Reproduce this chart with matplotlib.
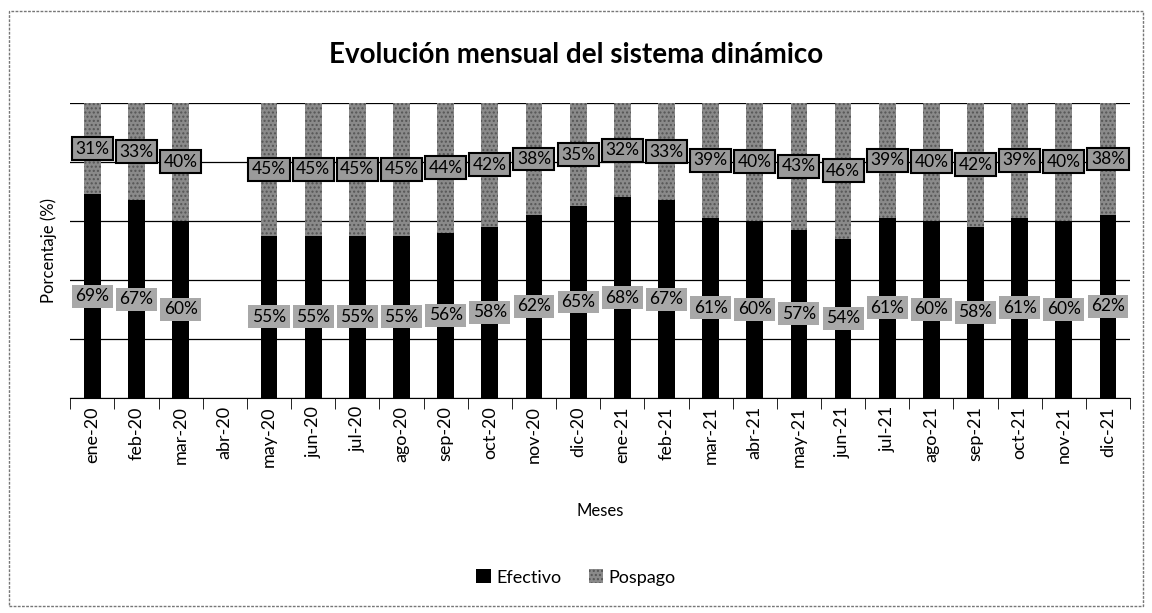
import matplotlib
matplotlib.use("Agg")
import matplotlib.pyplot as plt
import numpy as np

meses = ["ene-20", "feb-20", "mar-20", "abr-20", "may-20", "jun-20", "jul-20", "ago-20",
         "sep-20", "oct-20", "nov-20", "dic-20", "ene-21", "feb-21", "mar-21", "abr-21",
         "may-21", "jun-21", "jul-21", "ago-21", "sep-21", "oct-21", "nov-21", "dic-21"]
efectivo = [69, 67, 60, None, 55, 55, 55, 55, 56, 58, 62, 65,
            68, 67, 61, 60, 57, 54, 61, 60, 58, 61, 60, 62]
pospago = [31, 33, 40, None, 45, 45, 45, 45, 44, 42, 38, 35,
           32, 33, 39, 40, 43, 46, 39, 40, 42, 39, 40, 38]

plt.rcParams['font.family'] = ['Lato', 'DejaVu Sans']

fig = plt.figure(figsize=(11.52, 6.13), dpi=100)
ax = fig.add_axes([0.061, 0.351, 0.92, 0.481])

x = np.arange(len(meses))
ef = np.array([v if v is not None else 0 for v in efectivo], dtype=float)
po = np.array([v if v is not None else 0 for v in pospago], dtype=float)

w = 0.38
ax.bar(x, ef / 100, width=w, color="black", zorder=3, label="Efectivo")
ax.bar(x, po / 100, bottom=ef / 100, width=w, color="#8a8a8a", hatch="....",
       edgecolor="#555555", linewidth=0, zorder=3, label="Pospago")

for i in range(len(meses)):
    if efectivo[i] is None:
        continue
    ax.text(x[i], ef[i] / 200, f"{efectivo[i]}%", ha="center", va="center",
            fontsize=12.5, color="black", zorder=4,
            bbox=dict(boxstyle="square,pad=0.2", facecolor="#a8a8a8", edgecolor="none"))
    ax.text(x[i], (ef[i] + po[i] / 2) / 100, f"{pospago[i]}%", ha="center", va="center",
            fontsize=12.5, color="black", zorder=4,
            bbox=dict(boxstyle="square,pad=0.2", facecolor="#9a9a9a", edgecolor="black", linewidth=1.5))

ax.set_xlim(-0.5, len(meses) - 0.5)
ax.set_ylim(0, 1.0)
ax.set_yticks(np.arange(0, 1.01, 0.2))
ax.set_yticklabels([])
ax.tick_params(axis="y", length=0)
ax.yaxis.grid(True, color="black", linewidth=0.9, zorder=0)
ax.set_axisbelow(True)

ax.set_xticks(x)
ax.set_xticklabels(meses, rotation=90, fontsize=13)
ax.tick_params(axis="x", which="major", length=0, pad=6)
ax.set_xticks(np.arange(-0.5, len(meses), 1), minor=True)
ax.tick_params(axis="x", which="minor", length=8, color="black")

for s in ["top", "right"]:
    ax.spines[s].set_visible(False)
ax.spines["left"].set_visible(False)
ax.spines["bottom"].set_color("black")

ax.set_xlabel("Meses", fontsize=12, labelpad=26)
ax.set_ylabel("Porcentaje (%)", fontsize=12, labelpad=6)

fig.text(0.5, 0.91, "Evolución mensual del sistema dinámico", ha="center", va="center",
         fontsize=20, fontweight="bold")

handles, labels = ax.get_legend_handles_labels()
fig.legend(handles, labels, loc="center", bbox_to_anchor=(0.5, 0.058), ncol=2,
           frameon=False, fontsize=13, handlelength=0.8, handleheight=0.8,
           columnspacing=1.5, handletextpad=0.3)

border = plt.Rectangle((0.008, 0.012), 0.984, 0.97, transform=fig.transFigure,
                       fill=False, edgecolor="#777777", linewidth=1, linestyle=(0, (2, 1)))
fig.patches.append(border)

fig.savefig("out.png", dpi=100)
